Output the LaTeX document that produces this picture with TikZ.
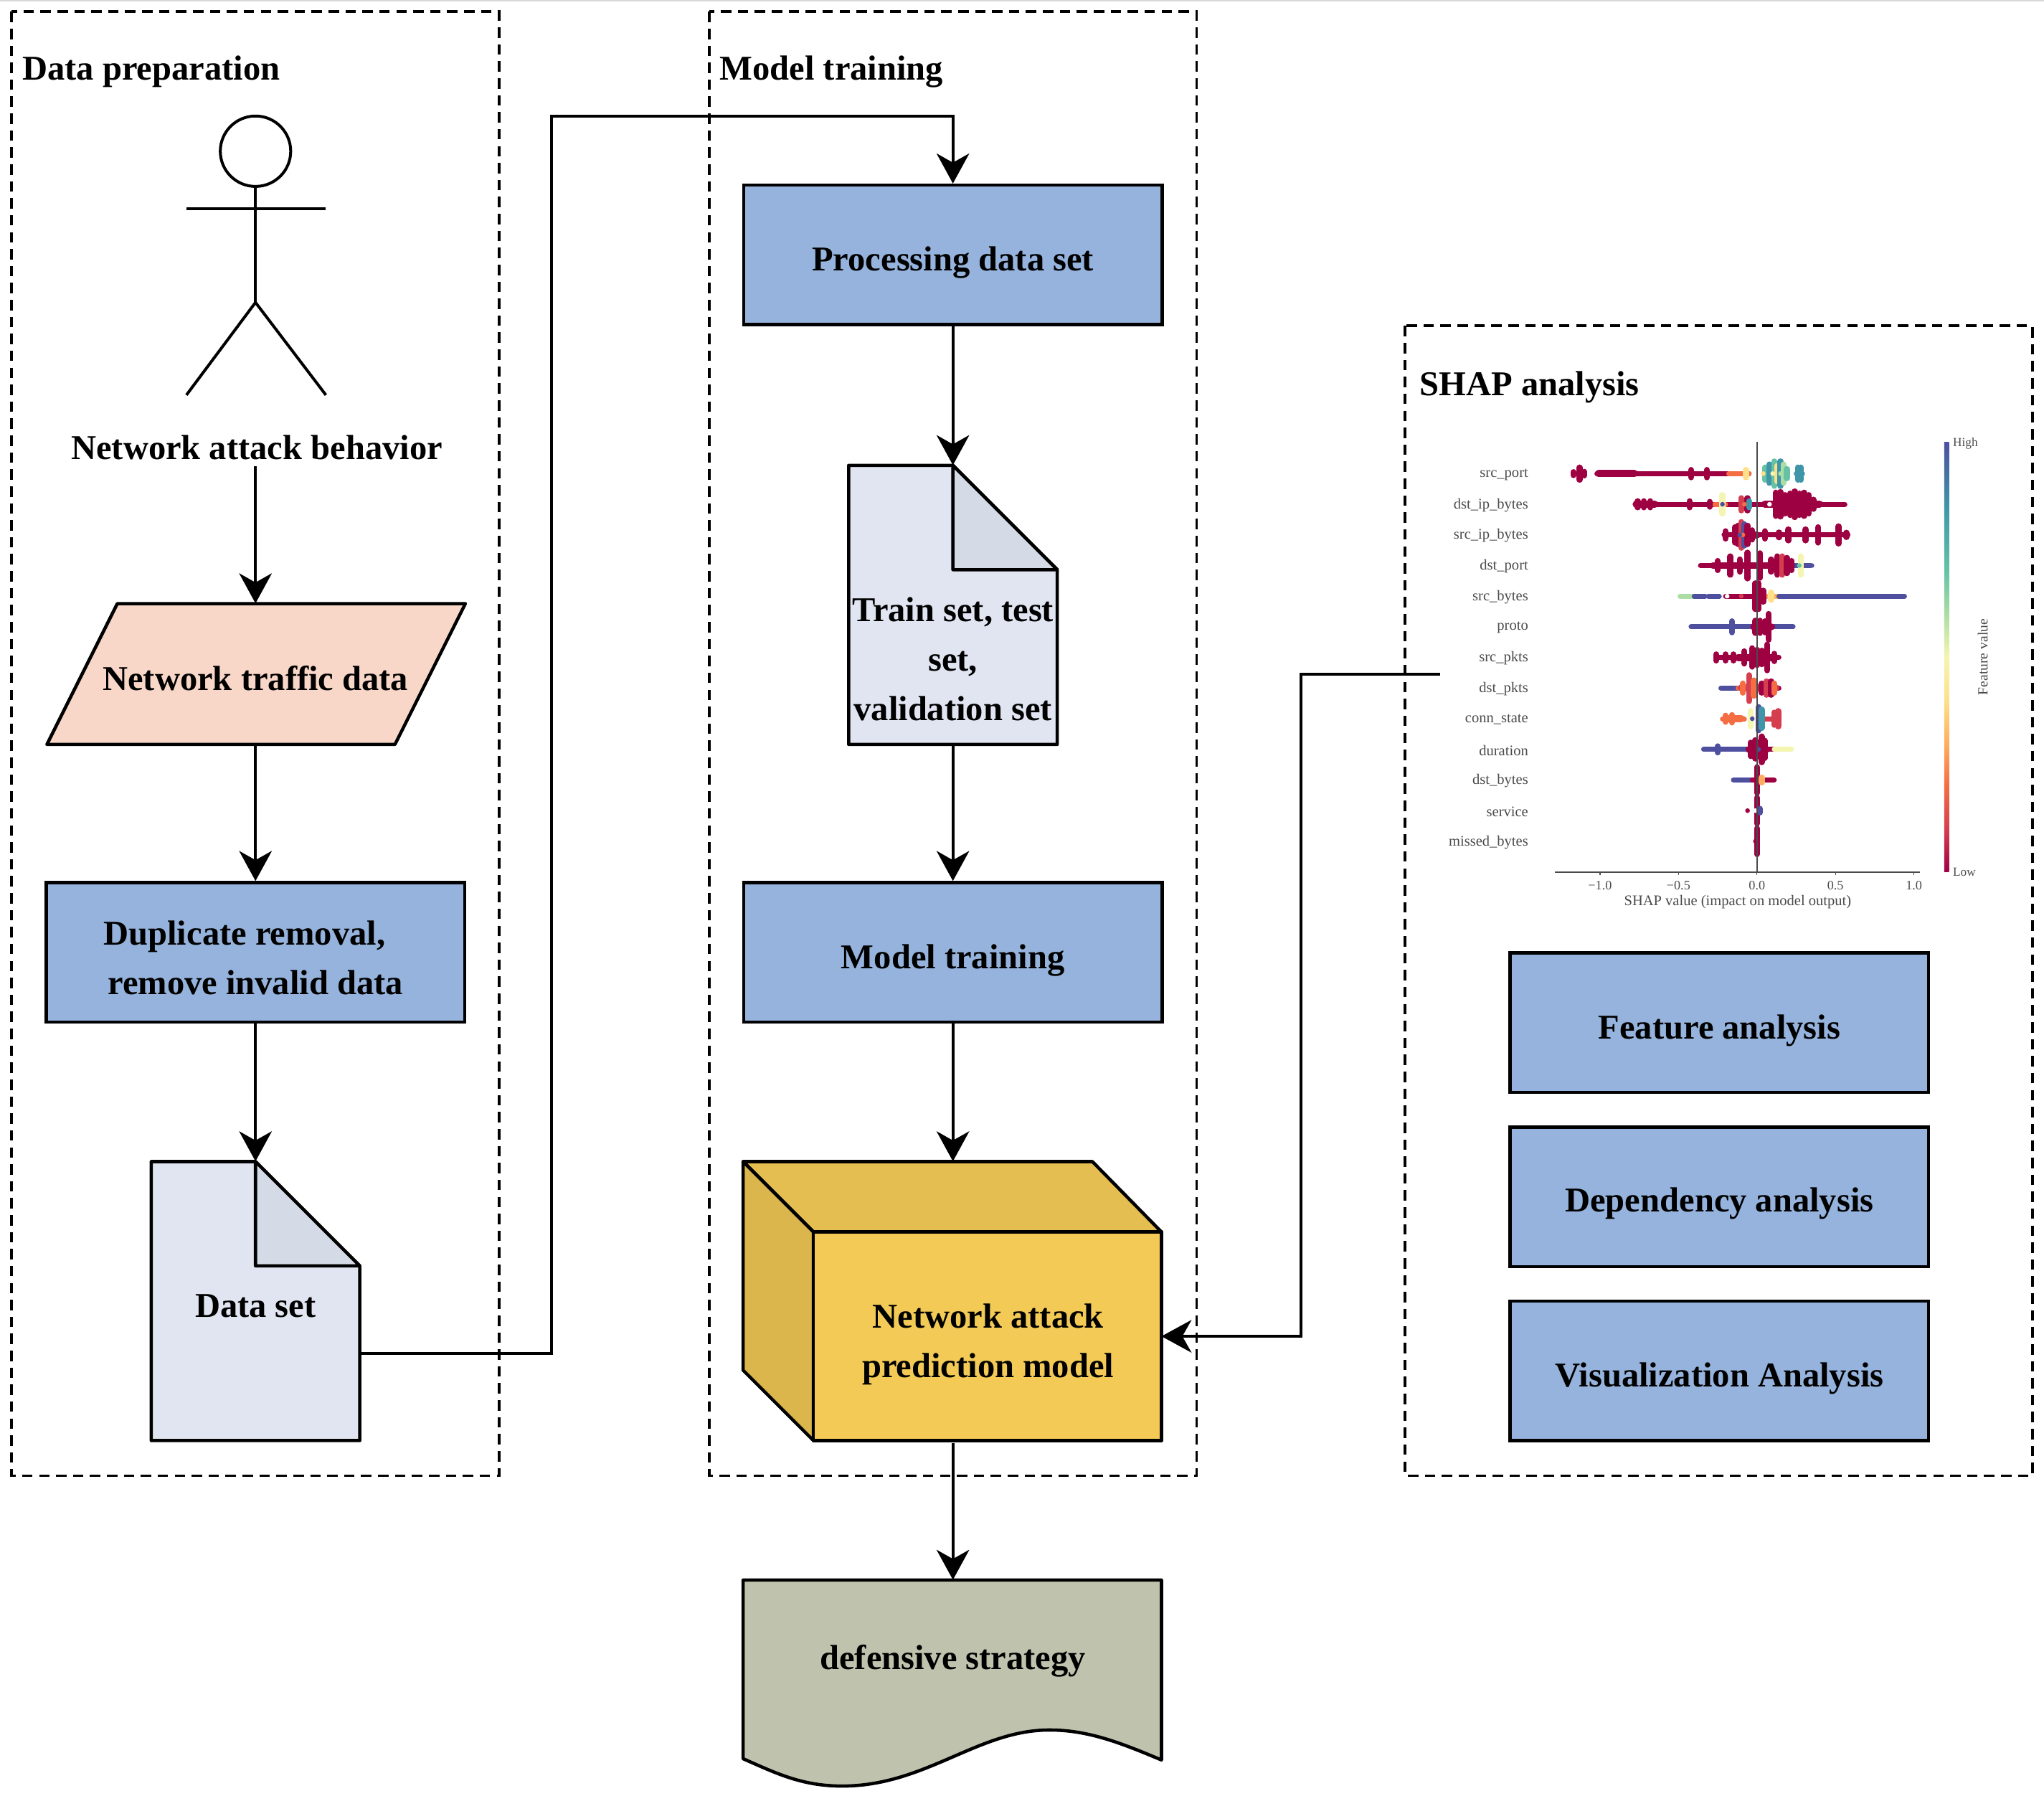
\documentclass[tikz,border=0pt]{standalone}
\usepackage{fontspec}
\setmainfont{Liberation Serif}
\usetikzlibrary{arrows.meta}
\definecolor{boxblue}{HTML}{95B3DC}
\definecolor{pinkfill}{HTML}{F8D7C8}
\definecolor{docfill}{HTML}{E0E5F1}
\definecolor{foldfill}{HTML}{D5DBE6}
\definecolor{cubefront}{HTML}{F2CA55}
\definecolor{cubetop}{HTML}{E4BE50}
\definecolor{cubeside}{HTML}{DAB64C}
\definecolor{wavefill}{HTML}{BFC3AD}
\definecolor{shapred}{HTML}{9E0142}
\definecolor{shapcrim}{HTML}{D53E4F}
\definecolor{shaporg}{HTML}{F46D43}
\definecolor{shapamber}{HTML}{FDAE61}
\definecolor{shapyel}{HTML}{FEE08B}
\definecolor{shappale}{HTML}{F4F5B0}
\definecolor{shaplime}{HTML}{ABDDA4}
\definecolor{shapgreen}{HTML}{66C2A5}
\definecolor{shapteal}{HTML}{3E96A8}
\definecolor{shapblue}{HTML}{4E4F9F}
\definecolor{plotgray}{HTML}{4A4A4A}
\pgfdeclareverticalshading{spectralbar}{100bp}{color(0bp)=(shapred);color(25bp)=(shapred);color(30bp)=(shapcrim);color(35bp)=(shaporg);color(40bp)=(shapamber);color(45bp)=(shapyel);color(50bp)=(shappale);color(55bp)=(shaplime);color(60bp)=(shapgreen);color(67.5bp)=(shapteal);color(75bp)=(shapblue);color(100bp)=(shapblue)}
\newcommand{\flowfont}{\fontsize{26.7}{38}\selectfont\bfseries}
\newcommand{\plotfont}{\fontsize{11.3}{13}\selectfont}
\newcommand{\ticksfont}{\fontsize{10}{12}\selectfont}
\tikzset{
    groupbox/.style={draw, line width=2.1pt, dash pattern=on 8pt off 5pt},
    flowbox/.style={draw, line width=2.5pt, fill=boxblue, minimum width=321pt, minimum height=107pt},
    shapeline/.style={draw, line width=2.5pt, line join=round},
    flowtext/.style={align=center, font=\flowfont, inner sep=0pt},
    grouptitle/.style={anchor=west, font=\flowfont, inner sep=0pt},
    flowarrow/.style={line width=2.2pt, -{Stealth[length=23pt, width=25pt, inset=7pt]}},
    actorline/.style={line width=2.2pt},
    swarmline/.style={line width=3.8pt, line cap=round},
    swarmthick/.style={line width=5.4pt, line cap=round},
    swarmblob/.style={line width=4.6pt, line cap=round},
    rowlabel/.style={anchor=east, font=\plotfont, text=plotgray, inner sep=0pt},
    plotlabel/.style={font=\ticksfont, text=plotgray, inner sep=0pt}
}

\begin{document}
\begin{tikzpicture}[x=1pt, y=-1pt]
    \useasboundingbox (0,0) rectangle (1568,1377.6);
    \draw[line width=1pt, black!15] (0,0.5) -- (1568,0.5);

    % Dashed group frames
    \draw[groupbox] (9,9) rectangle (383,1132);
    \draw[groupbox] (544,9) rectangle (918,1132);
    \draw[groupbox] (1078,250) rectangle (1559,1132);
    \node[grouptitle] (titledata) at (17,55) {Data preparation};
    \node[grouptitle] (titlemodel) at (552,55) {Model training};
    \node[grouptitle] (titleshap) at (1089,297) {SHAP analysis};

    % Actor
    \draw[actorline] (196,116) ellipse (27 and 27);
    \draw[actorline] (196,143) -- (196,232);
    \draw[actorline] (143,160) -- (250,160);
    \draw[actorline] (143,303) -- (196,232) -- (250,303);
    \node[flowtext] (behavior) at (197,343) {Network attack behavior};

    % Data preparation column
    \draw[shapeline, fill=pinkfill] (90,463) -- (357,463) -- (303,571) -- (36,571) -- cycle;
    \node[flowtext, minimum width=321pt, minimum height=108pt] (traffic) at (196,517) {};
    \node[flowtext] (traffictext) at (196,520) {Network traffic data};
    \node[flowbox] (dedup) at (196,730.5) {};
    \node[flowtext] (deduptext) at (196,734.5) {Duplicate removal,\hspace*{17pt}\\remove invalid data};
    \draw[shapeline, fill=docfill] (116,891) -- (196,891) -- (276,971) -- (276,1105) -- (116,1105) -- cycle;
    \draw[shapeline, fill=foldfill] (196,891) -- (276,971) -- (196,971) -- cycle;
    \node[flowtext, minimum width=160pt, minimum height=214pt] (dataset) at (196,998) {};
    \node[flowtext] (datasettext) at (196,1002) {Data set};

    % Model training column
    \node[flowbox] (processing) at (731,195.5) {};
    \node[flowtext] (processingtext) at (731,201.5) {Processing data set};
    \draw[shapeline, fill=docfill] (651,357) -- (731,357) -- (811,437) -- (811,571) -- (651,571) -- cycle;
    \draw[shapeline, fill=foldfill] (731,357) -- (811,437) -- (731,437) -- cycle;
    \node[flowtext, minimum width=160pt, minimum height=214pt] (splits) at (731,464) {};
    \node[flowtext] (splitstext) at (731,505.5) {Train set, test\\set,\\validation set};
    \node[flowbox] (training) at (731,730.5) {};
    \node[flowtext] (trainingtext) at (731,736.5) {Model training};

    % Prediction model cube
    \draw[shapeline, fill=cubetop] (570,891) -- (838,891) -- (891,945) -- (624,945) -- cycle;
    \draw[shapeline, fill=cubeside] (570,891) -- (624,945) -- (624,1105) -- (570,1051) -- cycle;
    \draw[shapeline, fill=cubefront] (624,945) rectangle (891,1105);
    \node[flowtext, minimum width=321pt, minimum height=214pt] (cube) at (731,998) {};
    \node[flowtext] (cubetext) at (758,1031) {Network attack\\prediction model};

    % Defensive strategy
    \draw[shapeline, fill=wavefill] (570,1212) -- (891,1212) -- (891,1350)
        .. controls (860,1337) and (835,1327) .. (805,1327)
        .. controls (750,1327) and (710,1370) .. (646,1370)
        .. controls (615,1370) and (595,1360) .. (570,1349) -- cycle;
    \node[flowtext, minimum width=321pt, minimum height=138pt] (strategy) at (731,1281) {};
    \node[flowtext] (strategytext) at (731,1274) {defensive strategy};

    % Analysis boxes
    \node[flowbox] (feature) at (1319,784.5) {};
    \node[flowtext] (featuretext) at (1319,790.5) {Feature analysis};
    \node[flowbox] (dependency) at (1319,918) {};
    \node[flowtext] (dependencytext) at (1319,923) {Dependency analysis};
    \node[flowbox] (visual) at (1319,1051.5) {};
    \node[flowtext] (visualtext) at (1319,1057.5) {Visualization Analysis};

    % SHAP summary plot
    \begin{scope}[shift={(1347.8,363.3)}, x=120.4pt, y=-23.5pt]
        % Lines of points
        \foreach \rw/\from/\too/\col in {
            0/-1.02/-0.05/shapred, 0/-0.18/-0.05/shaporg, 0/0.25/0.29/shapteal,
            1/-0.77/0.56/shapred, 1/-0.27/-0.2/shaporg,
            2/-0.21/0.58/shapred,
            3/-0.36/0.25/shapred, 3/0.24/0.34/shapblue,
            4/-0.49/-0.4/shaplime, 4/-0.4/-0.33/shapblue, 4/-0.31/-0.24/shapblue, 4/-0.2/-0.03/shapred, 4/0.02/0.14/shapamber, 4/0.14/0.94/shapblue,
            5/-0.42/0.23/shapblue, 5/-0.02/0.1/shapred,
            6/-0.26/0.14/shapred,
            7/-0.23/-0.12/shapblue, 7/-0.12/0.01/shaporg, 7/0.01/0.14/shapred,
            8/-0.22/-0.08/shaporg, 8/0.03/0.14/shapcrim,
            9/-0.34/-0.05/shapblue, 9/-0.05/0.1/shapred, 9/0.11/0.22/shappale,
            10/-0.15/-0.03/shapblue, 10/-0.03/0.11/shapred} {
            \draw[swarmline, \col] (\from,\rw) -- (\too,\rw);
        }
        % Denser stretches
        \foreach \rw/\from/\too/\col in {
            0/-1.01/-0.78/shapred, 1/-0.77/-0.65/shapred, 1/0.05/0.4/shapred, 2/-0.14/0.0/shapred, 3/-0.28/0.22/shapred, 5/-0.02/0.09/shapred, 6/-0.12/0.1/shapred, 7/-0.1/0.12/shapcrim, 8/-0.2/-0.1/shaporg, 9/-0.05/0.06/shapred} {
            \draw[swarmthick, \col] (\from,\rw) -- (\too,\rw);
        }
        % Columns of points
        \foreach \rw/\val/\hgt/\col in {
            0/-1.17/.05/shapred, 0/-1.13/.2/shapred, 0/-1.1/.06/shapred, 0/-0.42/.12/shapred, 0/-0.32/.12/shapred, 0/-0.07/.12/shapyel,
            0/0.05/.2/shapgreen, 0/0.08/.3/shapteal, 0/0.11/.4/shapgreen, 0/0.13/.25/shapyel, 0/0.15/.4/shapteal, 0/0.17/.3/shaplime, 0/0.19/.15/shapgreen, 0/0.26/.2/shapteal, 0/0.28/.2/shapteal,
            1/-0.76/.1/shapred, 1/-0.72/.1/shapred, 1/-0.68/.1/shapred, 1/-0.43/.1/shapred, 1/-0.3/.08/shapred, 1/-0.22/.3/shappale, 1/-0.1/.2/shapcrim, 1/-0.06/.2/shapred, 1/-0.05/.1/shapteal,
            1/0.12/.38/shapred, 1/0.15/.4/shapred, 1/0.18/.3/shapred, 1/0.21/.35/shapred, 1/0.24/.42/shapred, 1/0.27/.35/shapred, 1/0.3/.38/shapred, 1/0.33/.3/shapred, 1/0.36/.15/shapred,
            2/-0.2/.12/shapred, 2/-0.14/.25/shapred, 2/-0.12/.3/shapred, 2/-0.1/.42/shapcrim, 2/-0.08/.35/shapblue, 2/-0.06/.3/shapred, 2/-0.03/.15/shapred, 2/0.05/.12/shapred, 2/0.14/.08/shapred, 2/0.2/.18/shapred, 2/0.31/.18/shapred, 2/0.39/.25/shapred, 2/0.52/.28/shapred, 2/0.57/.07/shapred,
            3/-0.25/.15/shapred, 3/-0.17/.3/shapred, 3/-0.11/.2/shapred, 3/-0.06/.42/shapred, 3/0.02/.4/shapred, 3/0.09/.2/shapred, 3/0.13/.3/shapred, 3/0.16/.3/shapcrim, 3/0.19/.25/shapred, 3/0.22/.15/shapred, 3/0.28/.3/shappale,
            4/-0.01/.42/shapred, 4/0.01/.42/shapred, 4/0.04/.18/shapred, 4/0.09/.12/shapyel,
            5/-0.16/.18/shapblue, 5/-0.01/.2/shapred, 5/0.02/.2/shapred, 5/0.05/.18/shapred, 5/0.075/.42/shapred,
            6/-0.26/.1/shapred, 6/-0.2/.1/shapred, 6/-0.15/.1/shapred, 6/-0.08/.2/shapred, 6/-0.03/.3/shapred, 6/0/.25/shapred, 6/0.03/.22/shapred, 6/0.065/.42/shapred, 6/0.11/.12/shapred,
            7/-0.09/.15/shaporg, 7/-0.05/.42/shapcrim, 7/-0.02/.25/shaporg, 7/0.03/.15/shapred, 7/0.06/.22/shapcrim, 7/0.09/.22/shapred, 7/0.11/.15/shaporg,
            8/-0.2/.1/shaporg, 8/-0.16/.12/shaporg, 8/-0.04/.25/shappale, 8/0.01/.38/shapblue, 8/0.03/.3/shapteal, 8/0.11/.2/shapcrim, 8/0.135/.25/shapcrim,
            9/-0.25/.1/shapblue, 9/-0.04/.22/shapred, 9/-0.01/.3/shapred, 9/0.03/.42/shapred, 9/0.05/.28/shapred,
            10/0/.42/shapred, 10/0.03/.08/shapamber,
            11/0/.42/shapred, 11/0.02/.06/shapblue,
            12/0/.42/shapred} {
            \draw[swarmblob, \col] (\val,\rw-\hgt) -- (\val,\rw+\hgt);
        }
        % Single points
        \foreach \rw/\val/\col in {
            0/0.04/shapyel, 0/0.1/shappale, 0/0.15/shaplime, 1/0.08/white, 1/-0.08/shaporg, 1/-0.22/shapblue, 2/-0.09/shaporg, 2/-0.11/shapblue, 3/0.27/shapgreen, 3/0.35/shapblue, 4/-0.19/white, 4/-0.1/shapcrim, 8/-0.03/shapblue, 9/0.01/shapblue, 11/-0.06/shapred, 11/-0.01/white, 12/-0.01/shapred} {
            \fill[\col] (\val,\rw) circle (1.8pt);
        }
        % Row labels
        \foreach \rw/\lab in {0/src\_port, 1/dst\_ip\_bytes, 2/src\_ip\_bytes, 3/dst\_port, 4/src\_bytes, 5/proto, 6/src\_pkts, 7/dst\_pkts, 8/conn\_state, 9/duration, 10/dst\_bytes, 11/service, 12/missed\_bytes} {
            \node[rowlabel] (row\rw) at (-1.456,\rw+.03) {\lab};
        }
    \end{scope}
    % Plot axes
    \draw[line width=.8pt, plotgray] (1347.8,339) -- (1347.8,669);
    \draw[line width=.8pt, plotgray] (1193,669) -- (1473,669);
    \foreach \val/\lab/\tik in {1227.4/−1.0/a, 1287.6/−0.5/b, 1347.8/0.0/c, 1408/0.5/d, 1468.2/1.0/e} {
        \draw[line width=.6pt, plotgray] (\val,669) -- (\val,671);
        \node[plotlabel] (tick\tik) at (\val,679) {\lab};
    }
    \node[plotlabel, font=\plotfont] (shapaxis) at (1333,692) {SHAP value (impact on model output)};
    \shade[shading=spectralbar] (1491.5,339) rectangle (1495,669);
    \node[plotlabel, anchor=west, font=\fontsize{9.5}{11}\selectfont] (high) at (1498,340) {High};
    \node[plotlabel, anchor=west, font=\fontsize{9.5}{11}\selectfont] (low) at (1498,669) {Low};
    \node[plotlabel, rotate=90, font=\fontsize{10.8}{12}\selectfont] (barlabel) at (1521,504) {Feature value};

    % Connectors
    \coordinate (shapend) at (1105,517);
    \coordinate (dataout) at (276,1038);
    \coordinate (cubein) at (891,1025);
    \draw[flowarrow] (behavior.south -| traffic.north) ++(0,5) -- (traffic.north);
    \draw[flowarrow] (traffic.south) -- (dedup.north);
    \draw[flowarrow] (dedup.south) -- (dataset.north);
    \draw[flowarrow] (dataout) -| (423,89) -| (processing.north);
    \draw[flowarrow] (processing.south) -- (splits.north);
    \draw[flowarrow] (splits.south) -- (training.north);
    \draw[flowarrow] (training.south) -- (cube.north);
    \draw[flowarrow] (cube.south) ++(0,2) -- (strategy.north);
    \draw[flowarrow] (shapend) -| (998,1025) -- (cubein);
\end{tikzpicture}
\end{document}
